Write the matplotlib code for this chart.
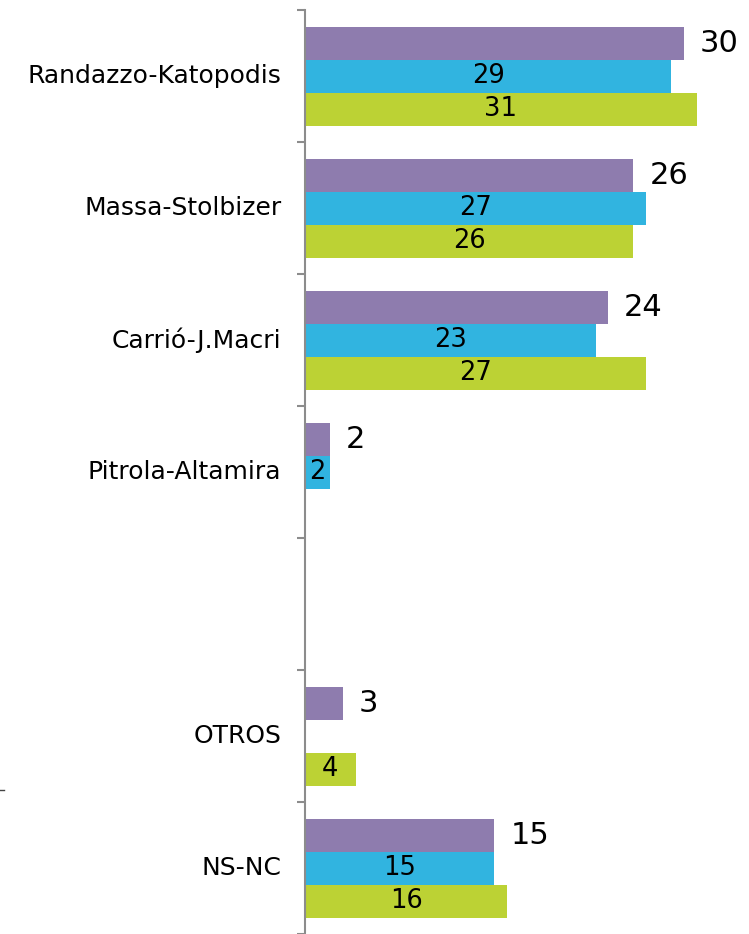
import matplotlib
matplotlib.use("Agg")
import matplotlib.pyplot as plt
from matplotlib.lines import Line2D
import numpy as np

categories = ["Randazzo-Katopodis", "Massa-Stolbizer", "Carrió-J.Macri",
              "Pitrola-Altamira", "", "OTROS", "NS-NC"]
serie_a = [30, 26, 24, 2, np.nan, 3, 15]      # purple
serie_b = [29, 27, 23, 2, np.nan, np.nan, 15]  # blue
serie_c = [31, 26, 27, np.nan, np.nan, 4, 16]  # green

colors = ["#8E7CAE", "#31B4E0", "#BCD234"]

fig = plt.figure(figsize=(7.49, 9.34), dpi=100)
ax = fig.add_axes([305/749, 0.0, 1 - 305/749, 1 - 10/934])

n = len(categories)
h = 0.25
centers = np.arange(n)
offsets = [-h, 0, h]
series = [serie_a, serie_b, serie_c]

for si, (vals, col, off) in enumerate(zip(series, colors, offsets)):
    for i, v in enumerate(vals):
        if np.isnan(v):
            continue
        y = centers[i] + off
        ax.barh(y, v, height=h, color=col, edgecolor="none")
        if si == 0:
            ax.annotate(f"{v:g}", (v, y), xytext=(11.5, 0), textcoords="offset points",
                        ha="left", va="center", fontsize=22, color="black",
                        fontfamily="DejaVu Sans")
        else:
            ax.text(v / 2, y, f"{v:g}", ha="center", va="center", fontsize=18.5,
                    color="black", fontfamily="DejaVu Sans")

ax.set_xlim(0, 35.15)
ax.set_ylim(n - 0.5, -0.5)

ax.set_yticks(np.arange(-0.5, n + 0.5, 1))
ax.set_yticklabels([])
ax.set_yticks(centers, minor=True)
ax.set_yticklabels(categories, minor=True, fontsize=18, fontfamily="DejaVu Sans",
                   va="center")
ax.tick_params(axis="y", which="major", length=6, width=1.5, color="#8C8C8C", direction="out")
ax.tick_params(axis="y", which="minor", length=0, pad=17)
ax.set_xticks([])

for s in ["top", "right", "bottom"]:
    ax.spines[s].set_visible(False)
ax.spines["left"].set_color("#8C8C8C")
ax.spines["left"].set_linewidth(1.5)

fig.add_artist(Line2D([0, 4/749], [1 - 790/934, 1 - 790/934], color="#444444", lw=1))

fig.savefig("out.png", dpi=100)
